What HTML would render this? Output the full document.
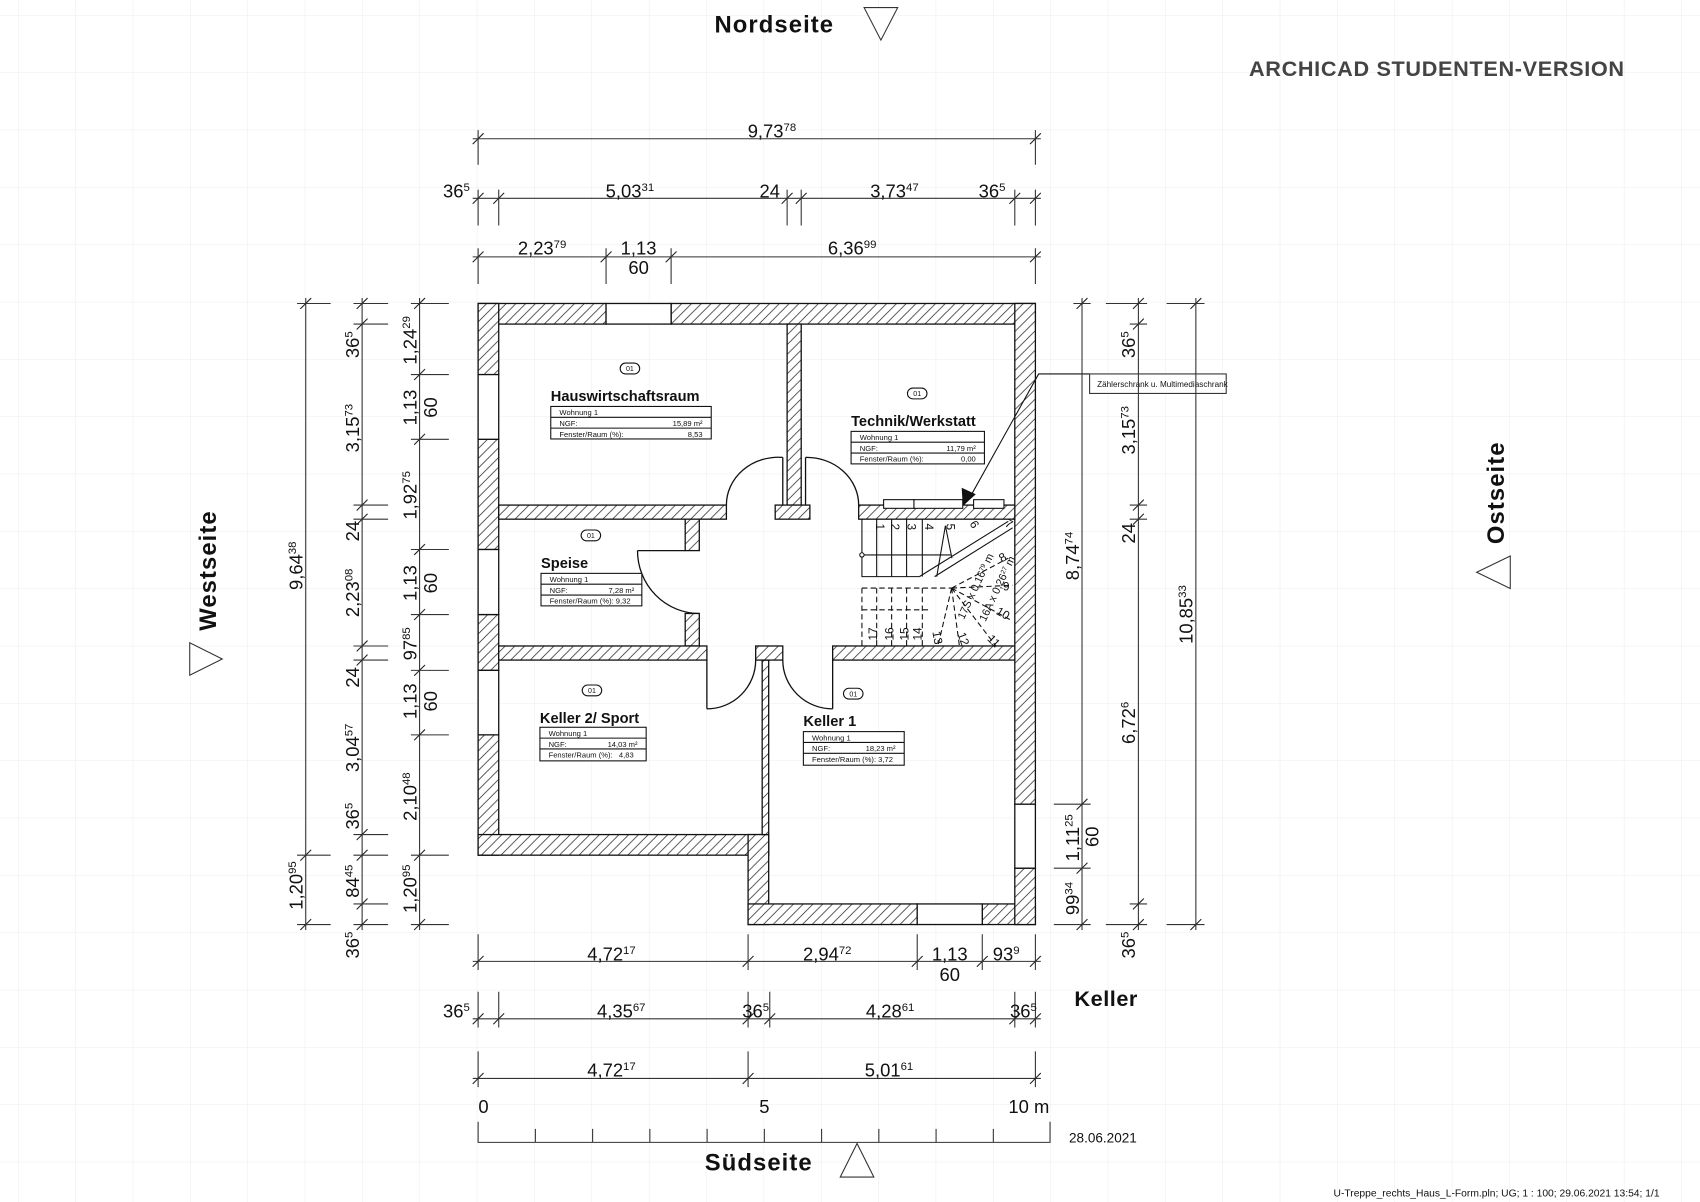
<!DOCTYPE html>
<html><head><meta charset="utf-8"><style>
html,body{margin:0;padding:0;background:#fff;}
svg{display:block;}
text{font-family:"Liberation Sans",Arial,sans-serif;fill:#111;}
.d{font-size:17px;fill:#222;}
.b{font-weight:bold;}
.s{font-size:10.5px;}
</style></head><body>
<svg width="1700" height="1202" viewBox="0 0 1568 1109" preserveAspectRatio="none" xmlns="http://www.w3.org/2000/svg">
<defs>
<pattern id="grid" x="16.6" y="13.9" width="52.9" height="52.9" patternUnits="userSpaceOnUse">
<path d="M0 0V52.9M0 0H52.9" stroke="#ececec" stroke-width="1" fill="none"/>
</pattern>
<pattern id="h" width="9" height="9" patternUnits="userSpaceOnUse">
<rect width="9" height="9" fill="#fff"/>
<path d="M-2 11L11 -2M-2 2L2 -2M7 11L11 7" stroke="#222" stroke-width="0.7"/>
</pattern>
<marker id="t" markerUnits="userSpaceOnUse" markerWidth="14" markerHeight="14" refX="7" refY="7" orient="0" viewBox="0 0 14 14">
<path d="M2 12L12 2" stroke="#222" stroke-width="1"/>
</marker>
</defs>
<rect width="1568" height="1109" fill="url(#grid)"/>

<g fill="url(#h)" stroke="#111" stroke-width="1.2">
<rect x="441" y="280" width="118" height="19"/>
<rect x="619" y="280" width="336" height="19"/>
<rect x="441" y="280" width="19" height="65.6"/>
<rect x="441" y="405.3" width="19" height="101.7"/>
<rect x="441" y="567" width="19" height="51.5"/>
<rect x="441" y="678" width="19" height="111"/>
<rect x="441" y="770" width="268" height="19"/>
<rect x="690" y="770" width="19" height="83"/>
<rect x="703" y="609" width="6" height="161"/>
<rect x="690" y="834" width="156" height="19"/>
<rect x="906" y="834" width="49" height="19"/>
<rect x="936" y="280" width="19" height="462"/>
<rect x="936" y="801" width="19" height="52"/>
<rect x="726" y="299" width="13" height="167"/>
<rect x="715" y="466" width="32" height="13"/>
<rect x="460" y="466" width="210" height="13"/>
<rect x="792" y="466" width="144" height="13"/>
<rect x="632" y="479" width="13" height="29"/>
<rect x="632" y="566" width="13" height="30"/>
<rect x="460" y="596" width="192" height="13"/>
<rect x="697" y="596" width="25" height="13"/>
<rect x="768" y="596" width="168" height="13"/>
</g>
<g fill="#fff" stroke="#111" stroke-width="1.2">
<rect x="559" y="280" width="60" height="19"/>
<rect x="441" y="345.6" width="19" height="59.7"/>
<rect x="441" y="507" width="19" height="60"/>
<rect x="441" y="618.5" width="19" height="59.5"/>
<rect x="846" y="834" width="60" height="19"/>
<rect x="936" y="742" width="19" height="59"/>
</g>
<g fill="none" stroke="#111" stroke-width="1.2">
<path d="M722 422V466M722 422A48 44 0 0 0 670 466"/>
<path d="M743 422V466M743 422A48 44 0 0 1 792 466"/>
<path d="M588 508H632M588 508A57 58 0 0 0 645 566"/>
<path d="M652 609V654M652 654A45 45 0 0 0 697 609"/>
<path d="M768 609V654M768 654A46 45 0 0 1 722 609"/>
</g>
<g fill="#fff" stroke="#111" stroke-width="1">
<rect x="815" y="461" width="28" height="8"/>
<rect x="843" y="461" width="45" height="8"/>
<rect x="898" y="461" width="28" height="8"/>
</g>

<g stroke="#111" stroke-width="1" fill="none">
<path d="M795 479V532H848M808.6 479V532M822.4 479V532M836.2 479V532M850.7 479V532"/>
<path d="M795 512H877"/>
<path d="M848 532L930 481"/>
<path d="M862 532L934 487"/>
<path d="M864 532L872 485L878 515"/>
<circle cx="795" cy="512" r="2" fill="#fff"/>
<g stroke-dasharray="5,3">
<path d="M795 542.6H877.7M795 542.6V596.5M808.6 542.6V596.5M822.4 542.6V596.5M836.2 542.6V596.5M850.7 542.6V596.5"/>
<path d="M795 562.6H858"/>
<path d="M877.7 542.6L934 573M877.7 542.6L919 596.5M877.7 542.6L885 596.5M877.7 542.6L865 596.5M877.7 542.6L934 540M877.7 542.6L930 515"/>
</g>
</g>
<g font-size="11" fill="#111">
<text transform="translate(808,483) rotate(90)">1</text>
<text transform="translate(822,483) rotate(90)">2</text>
<text transform="translate(837,483) rotate(90)">3</text>
<text transform="translate(853,483) rotate(90)">4</text>
<text transform="translate(873,483) rotate(90)">5</text>
<text transform="translate(894,483) rotate(60)">6</text>
<text transform="translate(926,485) rotate(30)">7</text>
<text transform="translate(924,519) rotate(-30)">8</text>
<text x="925" y="545">9</text>
<text transform="translate(918,566) rotate(30)">10</text>
<text transform="translate(910,590) rotate(45)">11</text>
<text transform="translate(883,585) rotate(70)">12</text>
<text transform="translate(860,583) rotate(80)">13</text>
<text transform="translate(850,591) rotate(-90)">14</text>
<text transform="translate(838,591) rotate(-90)">15</text>
<text transform="translate(824,591) rotate(-90)">16</text>
<text transform="translate(809,591) rotate(-90)">17</text>
<text transform="translate(889,572) rotate(-65)" font-size="10">17S x 0,16<tspan dy="-3" font-size="6">79</tspan><tspan dy="3"> m</tspan></text>
<text transform="translate(909,574) rotate(-65)" font-size="10">16A x 0,26<tspan dy="-3" font-size="6">27</tspan><tspan dy="3"> m</tspan></text>
</g>

<path d="M1005 345H958L894 460" stroke="#111" stroke-width="1" fill="none"/>
<path d="M888 467L887 450L900 456Z" fill="#111"/>
<rect x="1005" y="345" width="126" height="18" fill="#fff" stroke="#333" stroke-width="1"/>
<text x="1012" y="357" font-size="7.5">Zählerschrank u. Multimediaschrank</text>

<g stroke="#111" stroke-width="1" fill="#fff">
<rect x="572" y="335" width="18" height="10" rx="5"/>
<rect x="837" y="358" width="18" height="10" rx="5"/>
<rect x="536" y="489" width="18" height="10" rx="5"/>
<rect x="537" y="632" width="18" height="10" rx="5"/>
<rect x="778" y="635" width="18" height="10" rx="5"/>
</g>
<g font-size="6.5" text-anchor="middle">
<text x="581" y="342.5">01</text><text x="846" y="365.5">01</text><text x="545" y="496.5">01</text><text x="546" y="639.5">01</text><text x="787" y="642.5">01</text>
</g>
<g font-size="13.5">
<text x="508" y="370" class="b">Hauswirtschaftsraum</text>
<text x="785" y="393" class="b">Technik/Werkstatt</text>
<text x="499" y="524" class="b">Speise</text>
<text x="498" y="667" class="b">Keller 2/ Sport</text>
<text x="741" y="670" class="b">Keller 1</text>
</g>
<g fill="#fff" stroke="#111" stroke-width="1">
<rect x="508" y="375" width="148" height="30"/><path d="M508 385H656M508 395H656"/>
<rect x="785" y="398" width="123" height="30"/><path d="M785 408H908M785 418H908"/>
<rect x="499" y="529" width="93" height="30"/><path d="M499 539H592M499 549H592"/>
<rect x="498" y="671" width="98" height="31"/><path d="M498 681H596M498 691H596"/>
<rect x="741" y="675" width="93" height="31"/><path d="M741 685H834M741 695H834"/>
</g>
<g font-size="7" fill="#222">
<text x="516" y="383">Wohnung 1</text><text x="516" y="393">NGF:</text><text x="648" y="393" text-anchor="end">15,89 m²</text><text x="516" y="403">Fenster/Raum (%):</text><text x="648" y="403" text-anchor="end">8,53</text>
<text x="793" y="406">Wohnung 1</text><text x="793" y="416">NGF:</text><text x="900" y="416" text-anchor="end">11,79 m²</text><text x="793" y="426">Fenster/Raum (%):</text><text x="900" y="426" text-anchor="end">0,00</text>
<text x="507" y="537">Wohnung 1</text><text x="507" y="547">NGF:</text><text x="585" y="547" text-anchor="end">7,28 m²</text><text x="507" y="557">Fenster/Raum (%): 9,32</text>
<text x="506" y="679">Wohnung 1</text><text x="506" y="689">NGF:</text><text x="588" y="689" text-anchor="end">14,03 m²</text><text x="506" y="699">Fenster/Raum (%):&#160;&#160;&#160;4,83</text>
<text x="749" y="683">Wohnung 1</text><text x="749" y="693">NGF:</text><text x="826" y="693" text-anchor="end">18,23 m²</text><text x="749" y="703">Fenster/Raum (%): 3,72</text>
</g>

<g stroke="#333" stroke-width="1" fill="none">
<polyline points="436,128 441,128 955,128 960,128" marker-mid="url(#t)"/>
<polyline points="436,183 441,183 460,183 726,183 739,183 936,183 955,183 960,183" marker-mid="url(#t)"/>
<polyline points="436,237 441,237 559,237 619,237 955,237 960,237" marker-mid="url(#t)"/>
<path d="M441 120V152M955 120V152M441 175V208M460 175V208M726 175V208M739 175V208M936 175V208M955 175V208M441 229V262M559 229V262M619 229V262M955 229V262"/>
<polyline points="436,887 441,887 690,887 846,887 906,887 955,887 960,887" marker-mid="url(#t)"/>
<polyline points="436,940 441,940 460,940 690,940 710,940 936,940 955,940 960,940" marker-mid="url(#t)"/>
<polyline points="436,995 441,995 690,995 955,995 960,995" marker-mid="url(#t)"/>
<path d="M441 862V895M690 862V895M846 862V895M906 862V895M955 862V895M441 915V948M460 915V948M690 915V948M710 915V948M936 915V948M955 915V948M441 970V1003M690 970V1003M955 970V1003"/>
<polyline points="282,275 282,280 282,789 282,853 282,858" marker-mid="url(#t)"/>
<polyline points="334,275 334,280 334,299 334,466 334,479 334,596 334,609 334,770 334,789 334,834 334,853 334,858" marker-mid="url(#t)"/>
<polyline points="387,275 387,280 387,345.6 387,405.3 387,507 387,567 387,618.5 387,678 387,789 387,853 387,858" marker-mid="url(#t)"/>
<path d="M274 280H305M274 789H305M274 853H305M326 280H358M326 299H358M326 466H358M326 479H358M326 596H358M326 609H358M326 770H358M326 789H358M326 834H358M326 853H358M379 280H414M379 345.6H414M379 405.3H414M379 507H414M379 567H414M379 618.5H414M379 678H414M379 789H414M379 853H414"/>
<polyline points="998,275 998,280 998,742 998,801 998,853 998,858" marker-mid="url(#t)"/>
<polyline points="1050,275 1050,280 1050,299 1050,466 1050,479 1050,834 1050,853 1050,858" marker-mid="url(#t)"/>
<polyline points="1103,275 1103,280 1103,853 1103,858" marker-mid="url(#t)"/>
<path d="M972 742H1006M972 801H1006M972 853H1006M990 280H1006M1020 280H1058M1042 299H1058M1042 466H1058M1042 479H1058M1042 834H1058M1020 853H1058M1076 280H1111M1076 853H1111"/>
<path d="M441 1035V1054H968.5V1035M493.8 1041.5V1054M546.6 1041.5V1054M599.4 1041.5V1054M652.2 1041.5V1054M705 1041.5V1054M757.8 1041.5V1054M810.6 1041.5V1054M863.4 1041.5V1054M916.2 1041.5V1054"/>
</g>

<g class="d" text-anchor="middle">
<text x="712" y="127">9,73<tspan dy="-6" class="s">78</tspan></text>
<text x="421" y="182">36<tspan dy="-6" class="s">5</tspan></text>
<text x="581" y="182">5,03<tspan dy="-6" class="s">31</tspan></text>
<text x="710" y="182">24</text>
<text x="825" y="182">3,73<tspan dy="-6" class="s">47</tspan></text>
<text x="915" y="182">36<tspan dy="-6" class="s">5</tspan></text>
<text x="500" y="235">2,23<tspan dy="-6" class="s">79</tspan></text>
<text x="589" y="235">1,13</text>
<text x="589" y="253">60</text>
<text x="786" y="235">6,36<tspan dy="-6" class="s">99</tspan></text>

<text x="564" y="886">4,72<tspan dy="-6" class="s">17</tspan></text>
<text x="763" y="886">2,94<tspan dy="-6" class="s">72</tspan></text>
<text x="876" y="886">1,13</text>
<text x="876" y="905">60</text>
<text x="928" y="886">93<tspan dy="-6" class="s">9</tspan></text>
<text x="421" y="939">36<tspan dy="-6" class="s">5</tspan></text>
<text x="573" y="939">4,35<tspan dy="-6" class="s">67</tspan></text>
<text x="697" y="939">36<tspan dy="-6" class="s">5</tspan></text>
<text x="821" y="939">4,28<tspan dy="-6" class="s">61</tspan></text>
<text x="944" y="939">36<tspan dy="-6" class="s">5</tspan></text>
<text x="564" y="993">4,72<tspan dy="-6" class="s">17</tspan></text>
<text x="820" y="993">5,01<tspan dy="-6" class="s">61</tspan></text>

<text transform="translate(279,522) rotate(-90)">9,64<tspan dy="-6" class="s">38</tspan></text>
<text transform="translate(279,817) rotate(-90)">1,20<tspan dy="-6" class="s">95</tspan></text>
<text transform="translate(331,318) rotate(-90)">36<tspan dy="-6" class="s">5</tspan></text>
<text transform="translate(331,395) rotate(-90)">3,15<tspan dy="-6" class="s">73</tspan></text>
<text transform="translate(331,490) rotate(-90)">24</text>
<text transform="translate(331,547) rotate(-90)">2,23<tspan dy="-6" class="s">08</tspan></text>
<text transform="translate(331,625) rotate(-90)">24</text>
<text transform="translate(331,690) rotate(-90)">3,04<tspan dy="-6" class="s">57</tspan></text>
<text transform="translate(331,753) rotate(-90)">36<tspan dy="-6" class="s">5</tspan></text>
<text transform="translate(331,813) rotate(-90)">84<tspan dy="-6" class="s">45</tspan></text>
<text transform="translate(331,872) rotate(-90)">36<tspan dy="-6" class="s">5</tspan></text>
<text transform="translate(384,314) rotate(-90)">1,24<tspan dy="-6" class="s">29</tspan></text>
<text transform="translate(384,376) rotate(-90)">1,13</text>
<text transform="translate(403,376) rotate(-90)">60</text>
<text transform="translate(384,457) rotate(-90)">1,92<tspan dy="-6" class="s">75</tspan></text>
<text transform="translate(384,538) rotate(-90)">1,13</text>
<text transform="translate(403,538) rotate(-90)">60</text>
<text transform="translate(384,594) rotate(-90)">97<tspan dy="-6" class="s">85</tspan></text>
<text transform="translate(384,647) rotate(-90)">1,13</text>
<text transform="translate(403,647) rotate(-90)">60</text>
<text transform="translate(384,735) rotate(-90)">2,10<tspan dy="-6" class="s">48</tspan></text>
<text transform="translate(384,820) rotate(-90)">1,20<tspan dy="-6" class="s">95</tspan></text>

<text transform="translate(995,513) rotate(-90)">8,74<tspan dy="-6" class="s">74</tspan></text>
<text transform="translate(995,773) rotate(-90)">1,11<tspan dy="-6" class="s">25</tspan></text>
<text transform="translate(1013,772) rotate(-90)">60</text>
<text transform="translate(995,829) rotate(-90)">99<tspan dy="-6" class="s">34</tspan></text>
<text transform="translate(1047,318) rotate(-90)">36<tspan dy="-6" class="s">5</tspan></text>
<text transform="translate(1047,397) rotate(-90)">3,15<tspan dy="-6" class="s">73</tspan></text>
<text transform="translate(1047,492) rotate(-90)">24</text>
<text transform="translate(1047,667) rotate(-90)">6,72<tspan dy="-6" class="s">6</tspan></text>
<text transform="translate(1047,872) rotate(-90)">36<tspan dy="-6" class="s">5</tspan></text>
<text transform="translate(1100,567) rotate(-90)">10,85<tspan dy="-6" class="s">33</tspan></text>

<text x="446" y="1027">0</text>
<text x="705" y="1027">5</text>
<text x="949" y="1027">10 m</text>
</g>
<text x="986" y="1054" font-size="12.5">28.06.2021</text>

<g font-size="22">
<text x="659" y="30" class="b" letter-spacing="1">Nordseite</text>
<text x="650" y="1080" class="b" letter-spacing="1">Südseite</text>
<text transform="translate(199,582) rotate(-90)" class="b" letter-spacing="1">Westseite</text>
<text transform="translate(1387,502) rotate(-90)" class="b" letter-spacing="1">Ostseite</text>
</g>
<g fill="#fff" stroke="#333" stroke-width="1">
<path d="M797 7H828L812.5 37Z"/>
<path d="M775 1086H806L790.5 1055Z"/>
<path d="M175 593V623L205 608Z"/>
<path d="M1393 513V543L1362 528Z"/>
</g>
<text x="1152" y="70" font-size="20" class="b" style="fill:#444" letter-spacing="0.6">ARCHICAD STUDENTEN-VERSION</text>
<text x="991" y="928" font-size="20" class="b" letter-spacing="0.5">Keller</text>
<text x="1230" y="1104" font-size="9.5">U-Treppe_rechts_Haus_L-Form.pln; UG; 1 : 100; 29.06.2021 13:54; 1/1</text>
</svg>
</body></html>
